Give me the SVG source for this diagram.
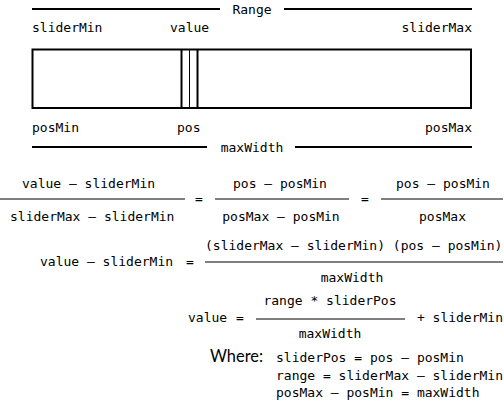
<svg xmlns="http://www.w3.org/2000/svg" width="504" height="405" viewBox="0 0 504 405">
<style>
.t{font-family:"DejaVu Sans Mono","Liberation Mono",monospace;font-size:13px;fill:#000}
.m{text-anchor:middle}
.e{text-anchor:end}
.w{font-family:Lato,"Noto Sans",sans-serif;font-size:17px;fill:#000}
.thick{stroke:#000;stroke-width:2;fill:none}
.frac{stroke:#000;stroke-width:1;fill:none}
</style>
<rect width="504" height="405" fill="#fff"/>
<g id="connectors">
<line class="thick" x1="32" y1="9" x2="220" y2="9"/>
<line class="thick" x1="284" y1="9" x2="472" y2="9"/>
<line class="thick" x1="32" y1="147" x2="207" y2="147"/>
<line class="thick" x1="295" y1="147" x2="472" y2="147"/>
</g>
<g id="range-label"><text class="t m" x="252" y="13.5">Range</text></g>
<g id="maxwidth-label"><text class="t m" x="252" y="152">maxWidth</text></g>
<g id="top-labels">
<text class="t" x="32" y="32">sliderMin</text>
<text class="t" x="170" y="32">value</text>
<text class="t e" x="472" y="32">sliderMax</text>
</g>
<g id="slider">
<rect class="thick" x="32.5" y="49.5" width="438.5" height="58.5"/>
<line class="thick" x1="181.5" y1="49.5" x2="181.5" y2="108"/>
<line class="frac" x1="189.5" y1="49.5" x2="189.5" y2="108"/>
<line class="thick" x1="197.5" y1="49.5" x2="197.5" y2="108"/>
</g>
<g id="bottom-labels">
<text class="t" x="32" y="131.5">posMin</text>
<text class="t" x="177" y="131.5">pos</text>
<text class="t e" x="472" y="131.5">posMax</text>
</g>
<g id="eq1">
<text class="t" x="22" y="187.5">value – sliderMin</text>
<line class="frac" x1="0" y1="199" x2="185" y2="199"/>
<text class="t" x="10" y="220.5">sliderMax – sliderMin</text>
<text class="t m" x="199" y="203">=</text>
<text class="t m" x="280" y="187.5">pos – posMin</text>
<line class="frac" x1="215" y1="199" x2="349" y2="199"/>
<text class="t m" x="281" y="220.5">posMax – posMin</text>
<text class="t m" x="365" y="203">=</text>
<text class="t m" x="443" y="187.5">pos – posMin</text>
<line class="frac" x1="381" y1="199" x2="503" y2="199"/>
<text class="t m" x="442.5" y="220.5">posMax</text>
</g>
<g id="eq2">
<text class="t" x="40" y="266">value – sliderMin</text>
<text class="t m" x="190" y="266">=</text>
<text class="t" x="205" y="250">(sliderMax – sliderMin) (pos – posMin)</text>
<line class="frac" x1="205" y1="262" x2="503" y2="262"/>
<text class="t m" x="352" y="282">maxWidth</text>
</g>
<g id="eq3">
<text class="t" x="188" y="322">value</text>
<text class="t m" x="240" y="322">=</text>
<text class="t m" x="330" y="305">range * sliderPos</text>
<line class="frac" x1="256" y1="319" x2="405" y2="319"/>
<text class="t m" x="330" y="338">maxWidth</text>
<text class="t e" x="503" y="322">+ sliderMin</text>
</g>
<g id="where">
<text class="w" x="210" y="362" textLength="53" lengthAdjust="spacingAndGlyphs">Where:</text>
<text class="t" x="276" y="362">sliderPos = pos – posMin</text>
<text class="t" x="276" y="379.5">range = sliderMax – sliderMin</text>
<text class="t" x="276" y="397">posMax – posMin = maxWidth</text>
</g>
</svg>
